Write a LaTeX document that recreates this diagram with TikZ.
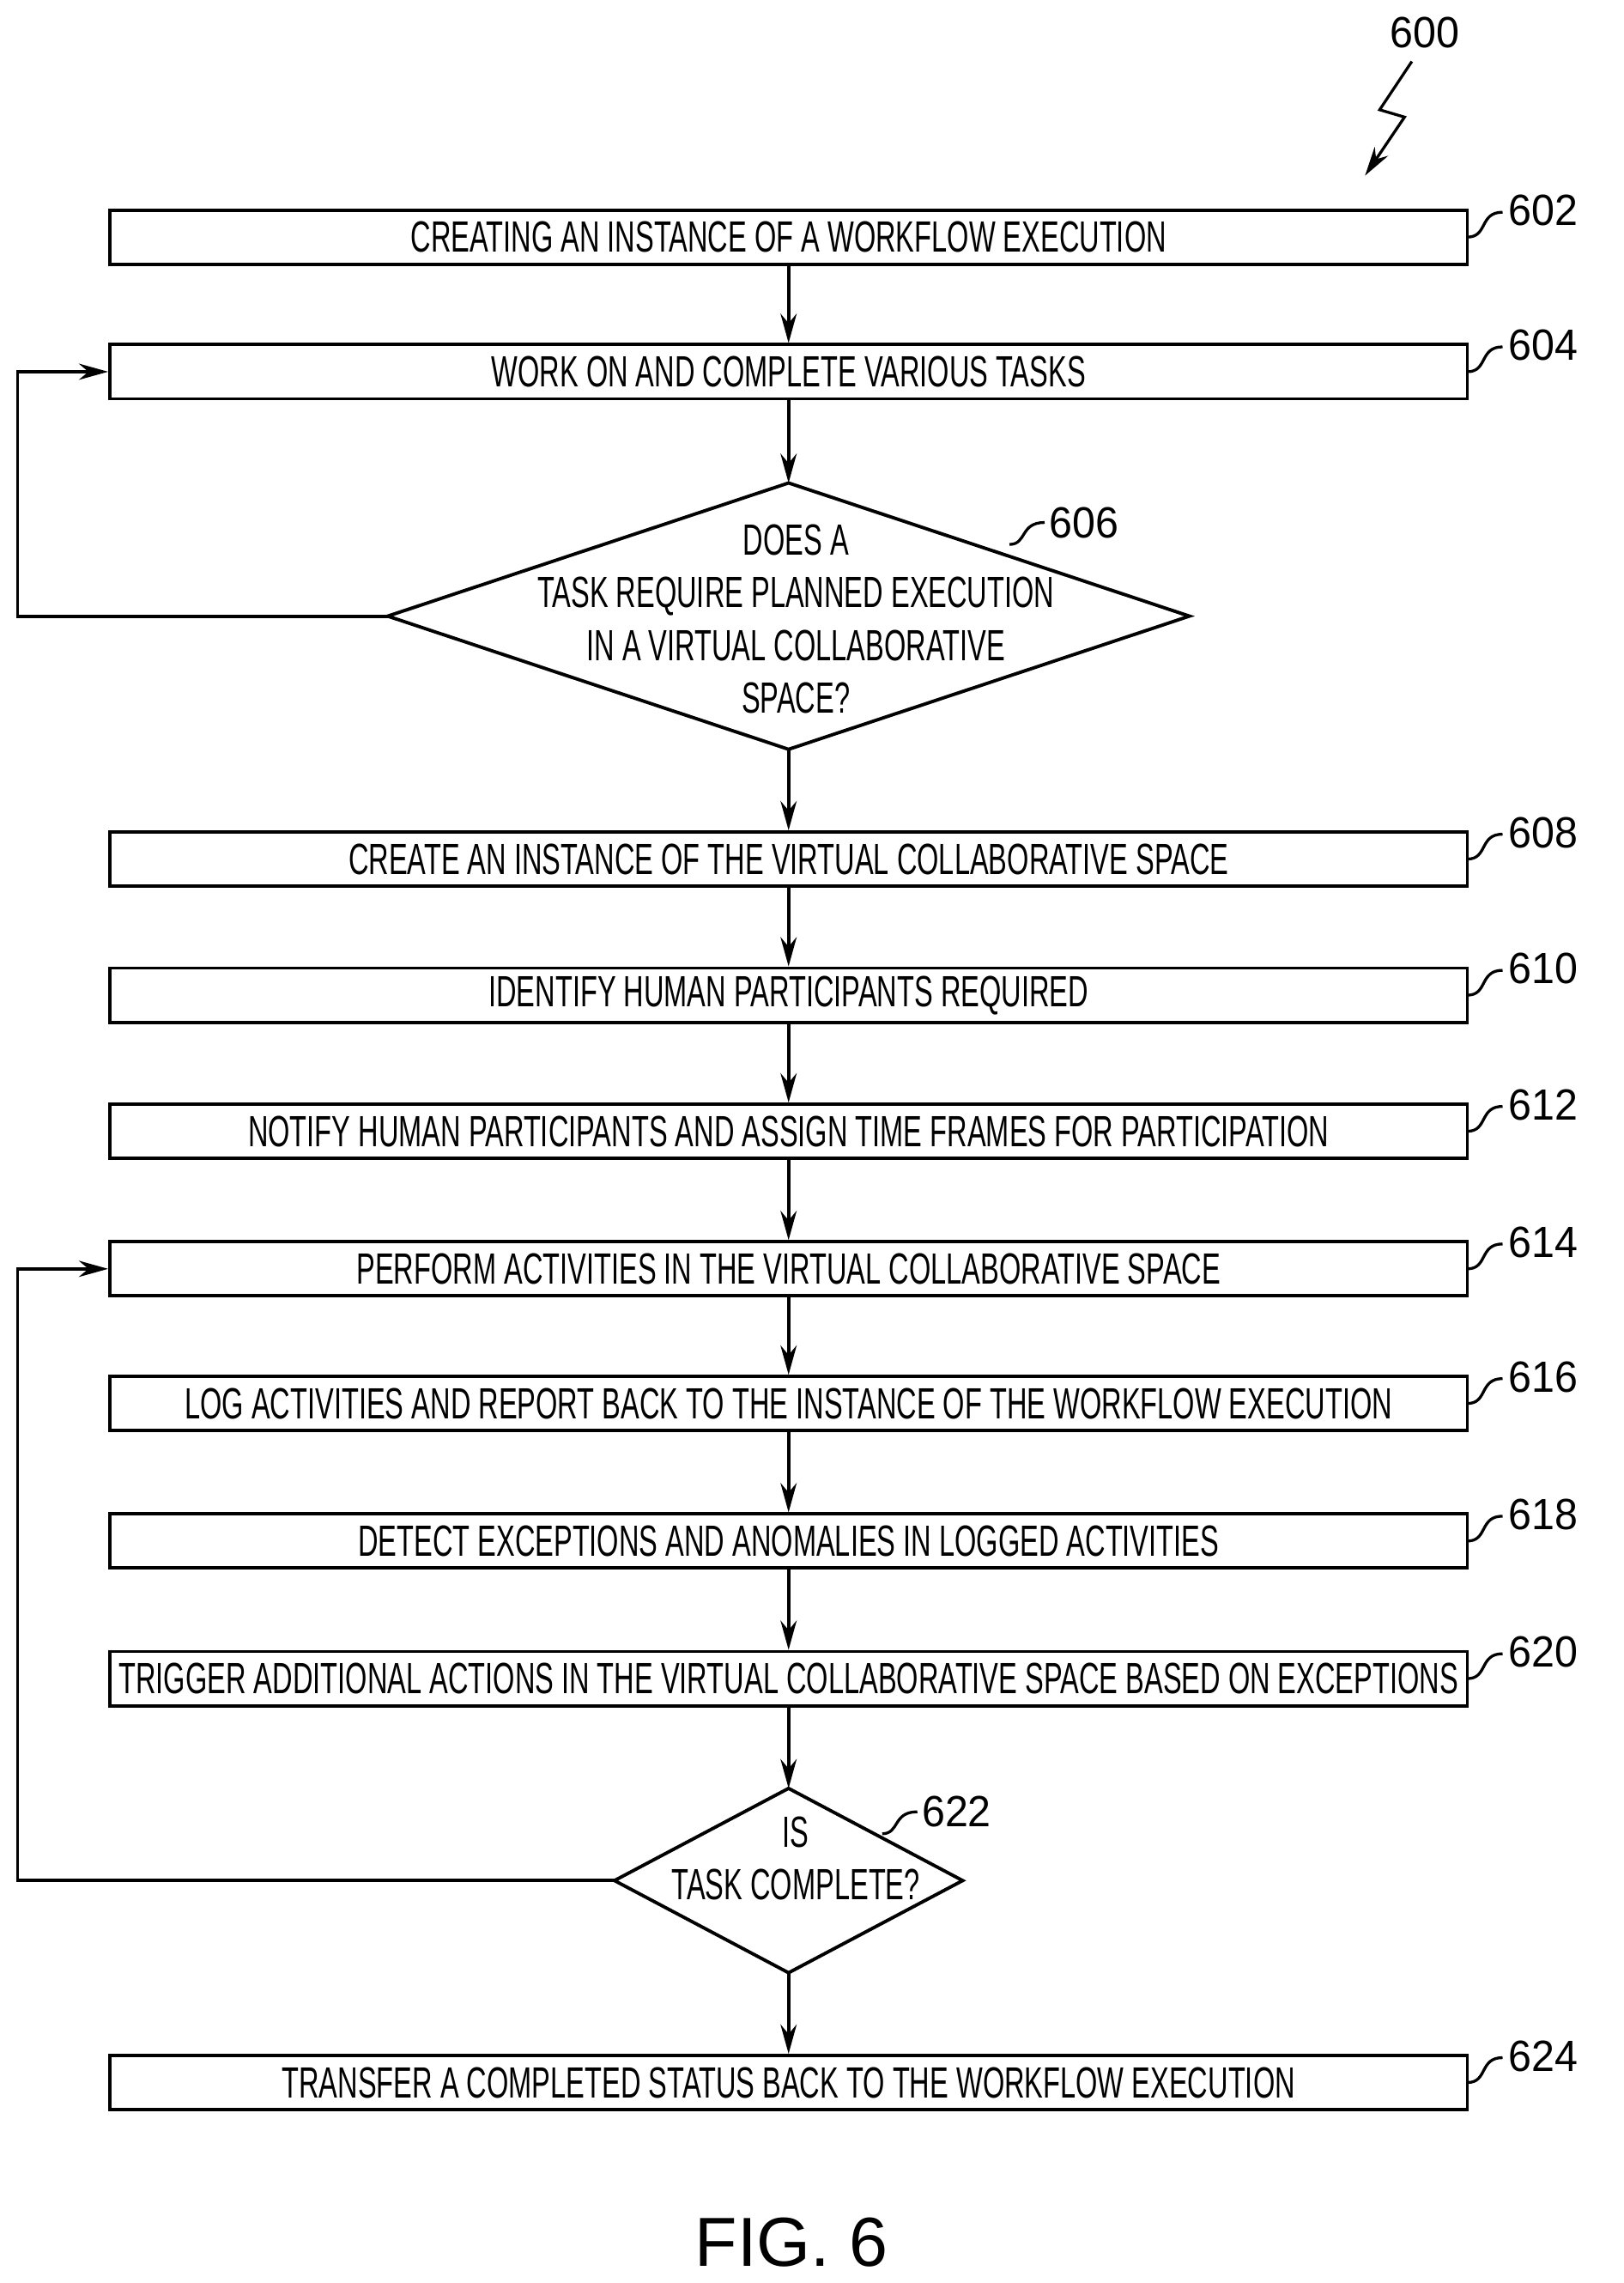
\documentclass[tikz,border=0pt]{standalone}
\usepackage{fontspec}
\setsansfont{Liberation Sans}
\usetikzlibrary{arrows.meta}
\newcommand{\nar}[1]{\scalebox{0.64}[1]{#1}}
\tikzset{
  stepbox/.style={draw, line width=1.3pt, minimum width=18.56cm, minimum height=0.74cm, inner sep=0pt,
    font=\sffamily\fontsize{17}{19}\selectfont},
  dtext/.style={align=center, font=\sffamily\fontsize{17}{20.5}\selectfont},
  flow/.style={line width=1.3pt, -{Stealth[length=4mm,width=2.2mm]}},
  ref/.style={font=\sffamily\fontsize{17}{19}\selectfont, anchor=west},
}
\newcommand{\lead}[3]{% x, y, label
  \draw[line width=1.1pt] (#1,#2) .. controls (#1+14,#2) and (#1+8,#2-17) .. (#1+24,#2-17);
  \node[ref] at (#1+22,#2-18) {\scalebox{0.95}[1]{#3}};
}
\begin{document}
\begin{tikzpicture}[x=0.02cm, y=-0.02cm]
\useasboundingbox (0,0) rectangle (1110,1560);

% steps
\node[stepbox] (s602) at (539,162) {\nar{CREATING AN INSTANCE OF A WORKFLOW EXECUTION}};
\node[stepbox] (s604) at (539,254) {\nar{WORK ON AND COMPLETE VARIOUS TASKS}};
\node[stepbox] (s608) at (539,587) {\nar{CREATE AN INSTANCE OF THE VIRTUAL COLLABORATIVE SPACE}};
\node[stepbox] (s610) at (539,680) {\nar{IDENTIFY HUMAN PARTICIPANTS REQUIRED}};
\node[stepbox] (s612) at (539,773) {\nar{NOTIFY HUMAN PARTICIPANTS AND ASSIGN TIME FRAMES FOR PARTICIPATION}};
\node[stepbox] (s614) at (539,867) {\nar{PERFORM ACTIVITIES IN THE VIRTUAL COLLABORATIVE SPACE}};
\node[stepbox] (s616) at (539,959) {\nar{LOG ACTIVITIES AND REPORT BACK TO THE INSTANCE OF THE WORKFLOW EXECUTION}};
\node[stepbox] (s618) at (539,1053) {\nar{DETECT EXCEPTIONS AND ANOMALIES IN LOGGED ACTIVITIES}};
\node[stepbox] (s620) at (539,1147) {\nar{TRIGGER ADDITIONAL ACTIONS IN THE VIRTUAL COLLABORATIVE SPACE BASED ON EXCEPTIONS}};
\node[stepbox] (s624) at (539,1423) {\nar{TRANSFER A COMPLETED STATUS BACK TO THE WORKFLOW EXECUTION}};

% decisions
\coordinate (d606t) at (539,330); \coordinate (d606b) at (539,512);
\coordinate (d606l) at (265,421); \coordinate (d606r) at (813,421);
\draw[line width=1.3pt] (d606t) -- (d606r) -- (d606b) -- (d606l) -- cycle;
\node[dtext] (d606) at (544,423) {\nar{DOES A}\\ \nar{TASK REQUIRE PLANNED EXECUTION}\\ \nar{IN A VIRTUAL COLLABORATIVE}\\ \nar{SPACE?}};
\coordinate (d622t) at (539,1222); \coordinate (d622b) at (539,1348);
\coordinate (d622l) at (420,1285); \coordinate (d622r) at (658,1285);
\draw[line width=1.3pt] (d622t) -- (d622r) -- (d622b) -- (d622l) -- cycle;
\node[dtext] (d622) at (544,1270) {\nar{IS}\\ \nar{TASK COMPLETE?}};

% connectors
\draw[flow] (s602) -- (s604);
\draw[flow] (s604) -- (d606t);
\draw[flow] (d606l) -- (12,421) -- (12,254) -- (s604.west);
\draw[flow] (d606b) -- (s608);
\draw[flow] (s608) -- (s610);
\draw[flow] (s610) -- (s612);
\draw[flow] (s612) -- (s614);
\draw[flow] (s614) -- (s616);
\draw[flow] (s616) -- (s618);
\draw[flow] (s618) -- (s620);
\draw[flow] (s620) -- (d622t);
\draw[flow] (d622l) -- (12,1285) -- (12,867) -- (s614.west);
\draw[flow] (d622b) -- (s624);

% reference numerals
\lead{1003}{162}{602}
\lead{1003}{254}{604}
\lead{1003}{587}{608}
\lead{1003}{680}{610}
\lead{1003}{773}{612}
\lead{1003}{867}{614}
\lead{1003}{959}{616}
\lead{1003}{1053}{618}
\lead{1003}{1147}{620}
\lead{1003}{1423}{624}
\draw[line width=1.1pt] (690,372) .. controls (702,372) and (697,357) .. (714,357);
\node[ref] at (711,357) {\scalebox{0.95}[1]{606}};
\draw[line width=1.1pt] (603,1253) .. controls (615,1253) and (610,1238) .. (627,1238);
\node[ref] at (624,1238) {\scalebox{0.95}[1]{622}};
\node[ref] at (944,22) {\scalebox{0.95}[1]{600}};
\draw[line width=1.1pt, -{Stealth[length=4mm,width=2.2mm]}] (965,42) -- (943,75) -- (960,80) -- (933,120);
\node[font=\sffamily\fontsize{27}{29}\selectfont] at (541,1532) {FIG. 6};
\end{tikzpicture}
\end{document}
